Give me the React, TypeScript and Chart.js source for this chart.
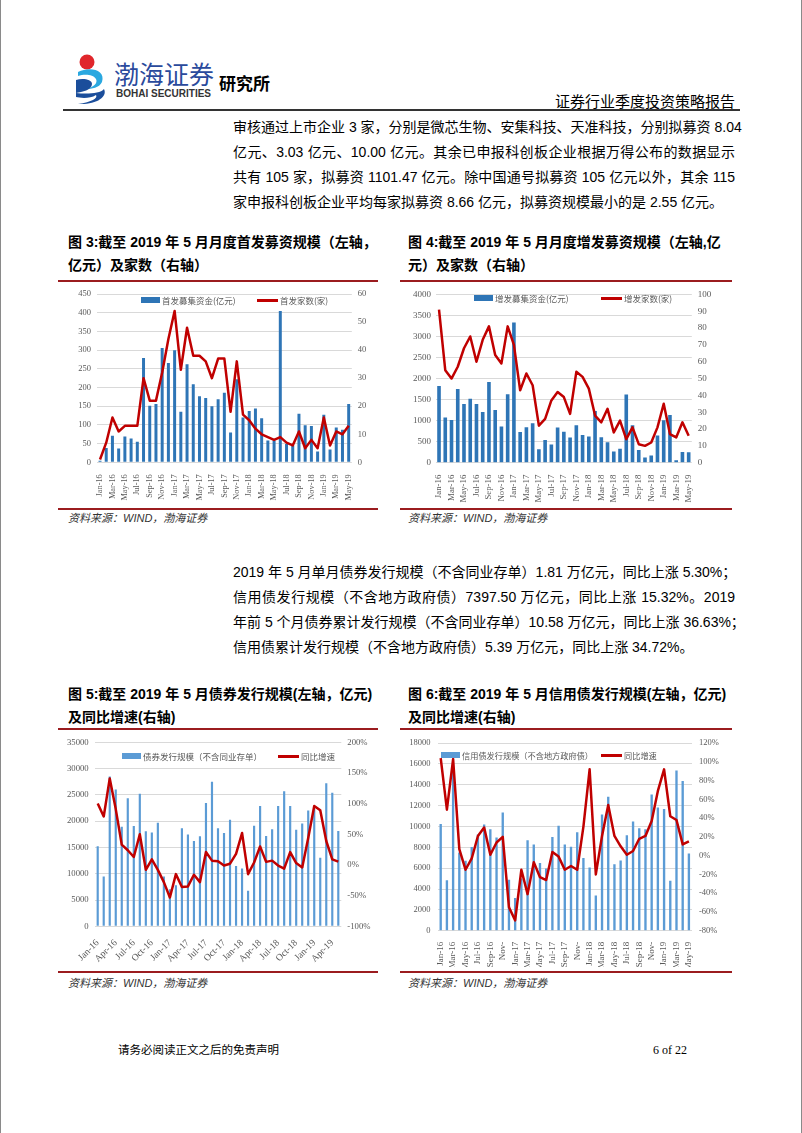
import React, { useEffect, useRef } from 'react';
import { Chart, registerables } from 'chart.js';
Chart.register(...registerables);

const months = [
  'Jan-16', 'Feb-16', 'Mar-16', 'Apr-16', 'May-16', 'Jun-16', 'Jul-16', 'Aug-16', 'Sep-16', 'Oct-16', 'Nov-16', 'Dec-16',
  'Jan-17', 'Feb-17', 'Mar-17', 'Apr-17', 'May-17', 'Jun-17', 'Jul-17', 'Aug-17', 'Sep-17', 'Oct-17', 'Nov-17', 'Dec-17',
  'Jan-18', 'Feb-18', 'Mar-18', 'Apr-18', 'May-18', 'Jun-18', 'Jul-18', 'Aug-18', 'Sep-18', 'Oct-18', 'Nov-18', 'Dec-18',
  'Jan-19', 'Feb-19', 'Mar-19', 'Apr-19', 'May-19',
];

// 图3 首发
const ipoAmount = [4, 38, 71, 37, 69, 64, 55, 279, 151, 156, 306, 266, 300, 135, 262, 209, 177, 172, 150, 169, 186, 80, 222, 120, 137, 144, 118, 58, 58, 405, 49, 45, 130, 99, 97, 29, 127, 34, 93, 87, 156];
const ipoCount = [1, 7, 16, 11, 13, 13, 13, 30, 22, 22, 32, 44, 54, 33, 48, 38, 38, 36, 30, 37, 37, 18, 36, 17, 15, 12, 10, 9, 8, 9, 7, 6, 11, 5, 8, 5, 16, 6, 11, 10, 13];

// 图4 增发
const seoAmount = [1820, 1075, 1013, 1750, 1397, 1520, 1397, 1205, 1919, 1251, 860, 1628, 3332, 729, 845, 937, 322, 537, 430, 837, 737, 599, 890, 660, 622, 1228, 606, 484, 269, 330, 1620, 890, 300, 123, 169, 645, 1006, 1136, 61, 253, 246];
const seoCount = [91, 55, 50, 57, 68, 75, 60, 73, 81, 64, 59, 81, 70, 43, 53, 46, 22, 26, 37, 42, 39, 29, 54, 51, 44, 28, 24, 32, 18, 25, 14, 21, 11, 10, 12, 21, 35, 17, 15, 24, 16];

// 图5 债券发行
const bondAmount = [15200, 9450, 28500, 26000, 18950, 24350, 19050, 25200, 18050, 17850, 19700, 9450, 7050, 7800, 18650, 17450, 16200, 17100, 23450, 27500, 18650, 17750, 20250, 11450, 11000, 6750, 19100, 22850, 17150, 18450, 22850, 25700, 22850, 18350, 19550, 22000, 22400, 13050, 27200, 25400, 18100];
const bondYoY = [100, 79, 141, 91, 33, 24, 13, 50, -8, 9, -8, -28, -53, -15, -36, -35, -16, -28, 21, 7, 6, -1, 2, 18, 52, -15, 4, 30, 5, 7, -1, -6, 21, 3, -4, 44, 96, 89, 39, 9, 5.3];

// 图6 信用债发行
const creditAmount = [10230, 4830, 15380, 7500, 6700, 8020, 9220, 10200, 9730, 8940, 11340, 4900, 3130, 5000, 8680, 8270, 6500, 5970, 9000, 10070, 8270, 8050, 9440, 6980, 6060, 3380, 11150, 12850, 6380, 6730, 9160, 10480, 9820, 9730, 13070, 11810, 11680, 4800, 15380, 14370, 7397.5];
const creditYoY = [104, 49, 103, 7, -15, -3, 21, 30, 1, 14, 20, -55, -69, -15, -41, -7, -23, -26, 4, -1, -15, -11, -15, 31, 92, -20, 21, 54, 21, 10, 1, 5, 18, 21, 37, 69, 92, 42, 38, 12, 15.32];

const RED = '#C00000';
const DARK_BLUE = '#2E75B6';
const LIGHT_BLUE = '#5B9BD5';
const TICK = '#595959';
const GRID = '#D9D9D9';
const FRAME = '#9B1C1F';

type Spec = {
  bars: number[]; line: number[]; barColor: string;
  yMax: number; yStep: number; y1Min: number; y1Max: number; y1Step: number; pct?: boolean;
  leftW: number; rightW: number; xH: number; padTop: number;
  rotation: number; every: number; fontSize: number; xFontSize: number;
  padY: number; padY1: number; padX: number; barPct: number;
  fmtX?: (s: string) => string;
};

function buildConfig(s: Spec): any {
  const family = '"Liberation Serif", "Times New Roman", serif';
  const font = { family, size: s.fontSize };
  const xfont = { family, size: s.xFontSize };
  return {
    type: 'bar',
    data: {
      labels: months,
      datasets: [
        {
          type: 'line', data: s.line, yAxisID: 'y1', borderColor: RED, backgroundColor: RED,
          borderWidth: 2.5, pointRadius: 0, tension: 0, borderJoinStyle: 'round', order: 0,
        },
        {
          type: 'bar', data: s.bars, yAxisID: 'y', backgroundColor: s.barColor,
          barPercentage: s.barPct, categoryPercentage: 1, order: 1,
        },
      ],
    },
    options: {
      responsive: false, animation: false,
      layout: { padding: { top: s.padTop, left: 0, right: 0, bottom: 0 } },
      plugins: { legend: { display: false }, tooltip: { enabled: false } },
      scales: {
        x: {
          grid: { display: false }, border: { display: false },
          ticks: {
            autoSkip: false, minRotation: s.rotation, maxRotation: s.rotation, font: xfont, color: TICK, padding: s.padX,
            callback: (_v: any, i: number) => (i % s.every === 0 ? (s.fmtX ? s.fmtX(months[i]) : months[i]) : ''),
          },
          afterFit: (sc: any) => { sc.height = s.xH; },
        },
        y: {
          position: 'left', min: 0, max: s.yMax,
          ticks: { stepSize: s.yStep, font, color: TICK, padding: s.padY, callback: (v: any) => String(v) },
          grid: { color: GRID, lineWidth: 1, drawTicks: false }, border: { display: false },
          afterFit: (sc: any) => { sc.width = s.leftW; },
        },
        y1: {
          position: 'right', min: s.y1Min, max: s.y1Max,
          ticks: { stepSize: s.y1Step, font, color: TICK, padding: s.padY1, callback: (v: any) => (s.pct ? String(v) + '%' : String(v)) },
          grid: { drawOnChartArea: false, drawTicks: false }, border: { display: false },
          afterFit: (sc: any) => { sc.width = s.rightW; },
        },
      },
    },
  };
}

function ChartBox({ left, top, width, height, spec }: { left: number; top: number; width: number; height: number; spec: Spec }) {
  const ref = useRef<HTMLCanvasElement>(null);
  useEffect(() => {
    const chart = new Chart(ref.current as HTMLCanvasElement, buildConfig(spec));
    return () => chart.destroy();
  }, []);
  return (
    <div style={{ position: 'absolute', left, top, width, height, overflow: 'hidden' }}>
      <canvas ref={ref} width={width} height={height} style={{ width, height, display: 'block' }} />
    </div>
  );
}

const CJK = '"Liberation Sans", "Noto Sans CJK SC", sans-serif';

function T({ x, y, size = 14, w, bold, italic, color = '#000', family = CJK, justify, children }: any) {
  return (
    <div
      style={{
        position: 'absolute', left: x, top: y - size * 0.7, width: w, fontSize: size, lineHeight: `${size * 1.4}px`,
        fontWeight: bold ? 'bold' : 'normal', fontStyle: italic ? 'italic' : 'normal', color, fontFamily: family,
        whiteSpace: 'nowrap', textAlign: justify ? 'justify' : 'left', textAlignLast: justify ? 'justify' : 'auto',
      }}
    >
      {children}
    </div>
  );
}

function Legend({ bx, lx, y, barColor, barText, lineText, size }: any) {
  const fs = size || 8.5;
  const st: any = { position: 'absolute', fontSize: fs, color: TICK, fontFamily: '"Noto Sans CJK SC", sans-serif', whiteSpace: 'nowrap', lineHeight: '12px', top: y - 6 };
  return (
    <>
      <div style={{ position: 'absolute', left: bx, top: y - 3, width: 19, height: 6, background: barColor }} />
      <div style={{ ...st, left: bx + 21 }}>{barText}</div>
      <div style={{ position: 'absolute', left: lx, top: y - 1.5, width: 21, height: 3, background: RED }} />
      <div style={{ ...st, left: lx + 23 }}>{lineText}</div>
    </>
  );
}

function Frame({ x, w, top, bottom }: any) {
  return (
    <>
      <div style={{ position: 'absolute', left: x, top, width: w, height: 2, background: FRAME }} />
      <div style={{ position: 'absolute', left: x, top: bottom, width: w, height: 2, background: FRAME }} />
    </>
  );
}

function Logo() {
  return (
    <svg style={{ position: 'absolute', left: 72, top: 52 }} width={40} height={54} viewBox="0 0 40 54">
      <circle cx={15} cy={10} r={7.5} fill="#E0262B" />
      <path d="M6 20 C18 14 34 18 30 30 C27 36 20 37 14 37 C22 35 26 31 24 27 C21 22 12 22 6 24 Z" fill="#2AA8E0" />
      <path d="M4 28 C10 26 20 27 20 32 C20 38 10 40 4 41 C14 42 28 42 32 37 C36 45 24 53 6 52 C20 50 26 46 24 43 C18 47 8 46 4 45 Z" fill="#1B4E9B" />
    </svg>
  );
}

export default function App() {
  const spec1: Spec = {
    bars: ipoAmount, line: ipoCount, barColor: DARK_BLUE, yMax: 450, yStep: 50, y1Min: 0, y1Max: 60, y1Step: 10,
    leftW: 36.9, rightW: 20.2, xH: 44.7, padTop: 6, rotation: 90, every: 2, fontSize: 8.5, xFontSize: 8.3,
    padY: 6, padY1: 6, padX: 4, barPct: 0.48,
  };
  const spec2: Spec = {
    bars: seoAmount, line: seoCount, barColor: DARK_BLUE, yMax: 4000, yStep: 500, y1Min: 0, y1Max: 100, y1Step: 10,
    leftW: 35.9, rightW: 40.2, xH: 44.3, padTop: 6, rotation: 90, every: 2, fontSize: 9, xFontSize: 8.8,
    padY: 5, padY1: 6, padX: 4, barPct: 0.58,
  };
  const spec3: Spec = {
    bars: bondAmount, line: bondYoY, barColor: LIGHT_BLUE, yMax: 35000, yStep: 5000, y1Min: -100, y1Max: 200, y1Step: 50, pct: true,
    leftW: 34.7, rightW: 30.7, xH: 42.7, padTop: 3.3, rotation: 45, every: 3, fontSize: 8.7, xFontSize: 9.5,
    padY: 6, padY1: 6, padX: 3, barPct: 0.36,
  };
  const spec4: Spec = {
    bars: creditAmount, line: creditYoY, barColor: LIGHT_BLUE, yMax: 18000, yStep: 2000, y1Min: -80, y1Max: 120, y1Step: 20, pct: true,
    leftW: 37.6, rightW: 40, xH: 36.3, padTop: 9.7, rotation: 90, every: 2, fontSize: 8.5, xFontSize: 9,
    padY: 7, padY1: 7, padX: 3, barPct: 0.38, fmtX: (s: string) => (s.startsWith('Nov') ? 'Nov-' : s),
  };

  return (
    <div style={{ position: 'absolute', left: 0, top: 0, width: 802, height: 1133, background: '#fff', overflow: 'hidden' }}>
      <div style={{ position: 'absolute', left: 0, top: 0, width: 800, height: 1133, borderLeft: '1px solid #8a8a8a', borderRight: '1px solid #8a8a8a' }} />
      {/* header */}
      <Logo />
      <T x={114} y={73} size={25} color="#2A4A9C" family='"Noto Sans CJK SC", sans-serif'>渤海证券</T>
      <T x={116} y={94} size={10} bold color="#333" family='"Liberation Sans", Arial, sans-serif'>BOHAI SECURITIES</T>
      <T x={219} y={83} size={17} bold family='"Noto Sans CJK SC", sans-serif'>研究所</T>
      <T x={555} y={100} size={15} family='"Noto Sans CJK SC", sans-serif'>证券行业季度投资策略报告</T>
      <div style={{ position: 'absolute', left: 63, top: 109, width: 677, height: 2, background: '#333' }} />

      {/* paragraph 1 */}
      <T x={233} y={128} w={502} justify>审核通过上市企业 3 家，分别是微芯生物、安集科技、天准科技，分别拟募资 8.04</T>
      <T x={233} y={153} w={502} justify>亿元、3.03 亿元、10.00 亿元。其余已申报科创板企业根据万得公布的数据显示</T>
      <T x={233} y={178} w={502} justify>共有 105 家，拟募资 1101.47 亿元。除中国通号拟募资 105 亿元以外，其余 115</T>
      <T x={233} y={203}>家申报科创板企业平均每家拟募资 8.66 亿元，拟募资规模最小的是 2.55 亿元。</T>

      {/* figure 3/4 titles */}
      <T x={68} y={243} bold>图 3:截至 2019 年 5 月月度首发募资规模（左轴，</T>
      <T x={68} y={266} bold>亿元）及家数（右轴）</T>
      <T x={408} y={243} bold>图 4:截至 2019 年 5 月月度增发募资规模（左轴,亿</T>
      <T x={408} y={266} bold>元）及家数（右轴）</T>

      <Frame x={58} w={320} top={280} bottom={508} />
      <Frame x={400} w={332} top={280} bottom={508} />
      <ChartBox left={60} top={283} width={312} height={224} spec={spec1} />
      <ChartBox left={400} top={283} width={332} height={224} spec={spec2} />
      <Legend bx={141} lx={257} y={300} barColor={DARK_BLUE} barText="首发募集资金(亿元)" lineText="首发家数(家)" />
      <Legend bx={474} lx={601} y={298} barColor={DARK_BLUE} barText="增发募集资金(亿元)" lineText="增发家数(家)" />

      <T x={68} y={519} size={11} italic color="#333">资料来源：WIND，渤海证券</T>
      <T x={408} y={519} size={11} italic color="#333">资料来源：WIND，渤海证券</T>

      {/* paragraph 2 */}
      <T x={233} y={573} w={502} justify>2019 年 5 月单月债券发行规模（不含同业存单）1.81 万亿元，同比上涨 5.30%；</T>
      <T x={233} y={598} w={502} justify>信用债发行规模（不含地方政府债）7397.50 万亿元，同比上涨 15.32%。2019</T>
      <T x={233} y={623} w={502} justify>年前 5 个月债券累计发行规模（不含同业存单）10.58 万亿元，同比上涨 36.63%；</T>
      <T x={233} y={648}>信用债累计发行规模（不含地方政府债）5.39 万亿元，同比上涨 34.72%。</T>

      {/* figure 5/6 titles */}
      <T x={68} y={695} bold>图 5:截至 2019 年 5 月债券发行规模(左轴，亿元)</T>
      <T x={68} y={718} bold>及同比增速(右轴)</T>
      <T x={408} y={695} bold>图 6:截至 2019 年 5 月信用债发行规模(左轴，亿元)</T>
      <T x={408} y={718} bold>及同比增速(右轴)</T>

      <Frame x={58} w={320} top={728} bottom={971} />
      <Frame x={400} w={332} top={728} bottom={971} />
      <ChartBox left={60} top={731} width={312} height={238} spec={spec3} />
      <ChartBox left={400} top={731} width={332} height={236} spec={spec4} />
      <Legend bx={122} lx={278} y={756} barColor={LIGHT_BLUE} barText="债券发行规模（不含同业存单）" lineText="同比增速" />
      <Legend bx={441} lx={601} y={755} barColor={LIGHT_BLUE} barText="信用债发行规模（不含地方政府债）" lineText="同比增速" size={8.2} />

      <T x={68} y={984} size={11} italic color="#333">资料来源：WIND，渤海证券</T>
      <T x={408} y={984} size={11} italic color="#333">资料来源：WIND，渤海证券</T>

      {/* footer */}
      <T x={118} y={1050} size={11.5}>请务必阅读正文之后的免责声明</T>
      <T x={653} y={1050} size={12} family='"Liberation Serif", "Times New Roman", serif'>6 of 22</T>
    </div>
  );
}
